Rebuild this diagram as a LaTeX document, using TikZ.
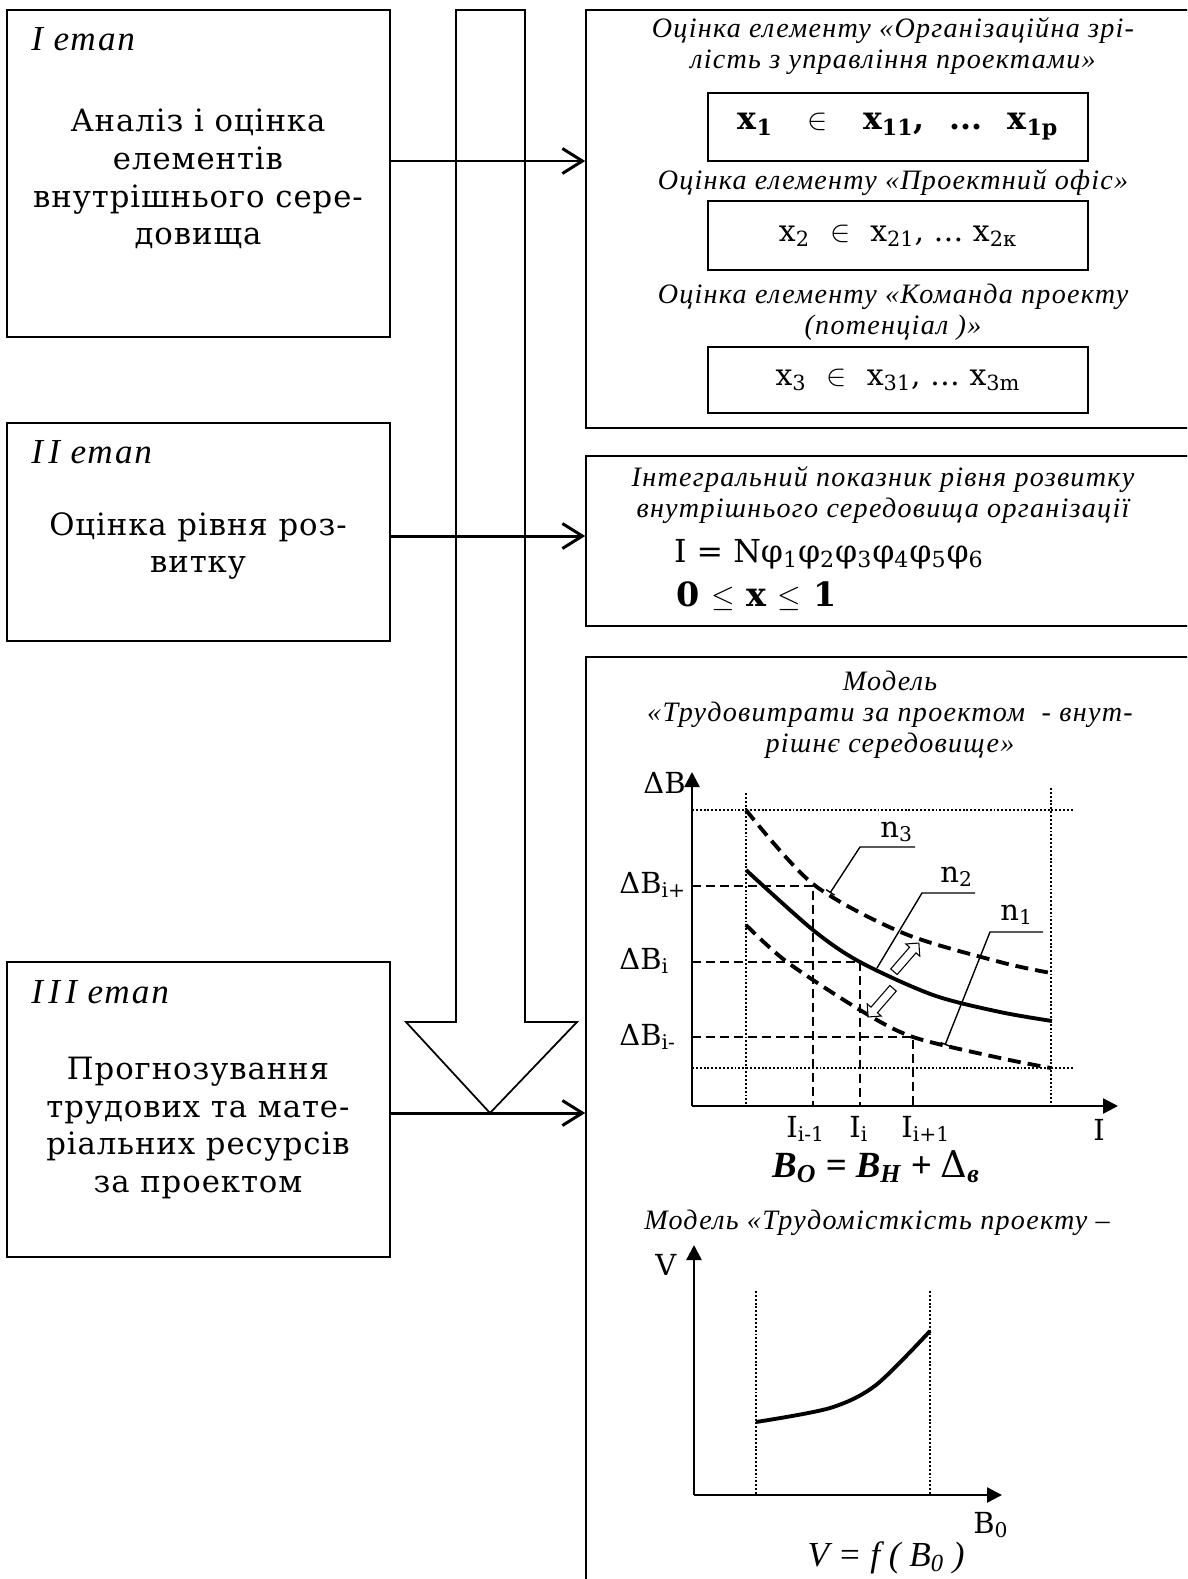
\documentclass[tikz,border=0pt]{standalone}
\usepackage{fontspec}
\setmainfont{DejaVu Serif}[ItalicFont={Liberation Serif Italic},BoldItalicFont={Liberation Serif Bold Italic}]
\usetikzlibrary{arrows.meta,shapes.arrows}

\begin{document}
\begin{tikzpicture}[
  x=0.02cm, y=-0.02cm,
  box/.style={draw, line width=1pt},
  stagetxt/.style={font=\fontsize{17.5}{21.5}\selectfont\addfontfeatures{LetterSpace=3}, align=center},
  stagehead/.style={anchor=base west, inner sep=0pt,
                    font=\fontsize{20}{22}\selectfont\itshape\addfontfeatures{LetterSpace=5}},
  itxt/.style={font=\fontsize{16}{17.6}\selectfont\itshape\addfontfeatures{LetterSpace=4.5}, align=center},
  xbox/.style={draw, line width=1pt, minimum width=7.6cm, minimum height=1.36cm},
  arr/.style={-{Straight Barb[length=4mm,width=5mm]}, line width=1.7pt},
  axisline/.style={-{Triangle[length=3mm,width=3mm]}, line width=1.4pt},
  guide/.style={dash pattern=on 1.1pt off 1.1pt, line width=1.1pt},
  lvl/.style={dash pattern=on 1.8mm off 1mm, line width=1.1pt},
  curve/.style={line width=2.2pt},
  lbl/.style={font=\fontsize{16.5}{18}\selectfont, anchor=base west, inner sep=0pt},
  lead/.style={line width=0.8pt},
  hollow/.style={single arrow, draw, fill=white, line width=0.6pt,
                 minimum height=7.6mm, inner sep=0.75mm, single arrow head extend=1mm}
]
  \clip (0,0) rectangle (1187,1579);

  % stages
  \node[box, minimum width=7.66cm, minimum height=6.54cm] (s1) at (198.5,173.5) {};
  \node[box, minimum width=7.66cm, minimum height=4.36cm] (s2) at (198.5,532) {};
  \node[box, minimum width=7.66cm, minimum height=5.9cm] (s3) at (198.5,1109.5) {};
  \node[stagehead] (h1) at (31,50) {I етап};
  \node[stagehead] (h2) at (31,463) {I\kern3pt I етап};
  \node[stagehead] (h3) at (31,1003) {I\kern3pt I\kern3pt I етап};
  \node[stagetxt] (a1) at (198,179) {Аналіз і оцінка\\ елементів\\ внутрішнього сере-\\ довища};
  \node[stagetxt] (a2) at (198,546) {Оцінка рівня роз-\\ витку};
  \node[stagetxt] (a3) at (198,1128) {Прогнозування\\ трудових та мате-\\ ріальних ресурсів\\ за проектом};

  % big arrow
  \draw[line width=1pt] (456,10) -- (456,1022) -- (406,1022) -- (490,1113)
    -- (577,1022) -- (525,1022) -- (525,10) -- cycle;

  % result boxes
  \node[box, minimum width=12.12cm, minimum height=8.36cm] (r1) at (889,219) {};
  \node[box, minimum width=12.12cm, minimum height=3.4cm] (r2) at (889,541) {};
  \node[box, minimum width=12.12cm, minimum height=18.66cm] (r3) at (889,1123.5) {};

  \coordinate (lv1) at (0,161);
  \coordinate (lv2) at (0,536);
  \coordinate (lv3) at (0,1113);
  \draw[arr] (s1.east |- lv1) -- (r1.west |- lv1);
  \draw[arr] (s2.east |- lv2) -- (r2.west |- lv2);
  \draw[arr] (s3.east |- lv3) -- (r3.west |- lv3);

  % box 1
  \node[itxt] (t11) at (893,46) {Оцінка елементу «Організаційна зрі-\\лість з управління проектами»};
  \node[xbox, font=\fontsize{18}{20}\selectfont\bfseries] (x1) at (898,127)
    {x\textsubscript{1}\hspace{7mm}$\in$\hspace{7mm}x\textsubscript{11},\hspace{5mm}...\hspace{5mm}x\textsubscript{1p}};
  \node[itxt] (t12) at (893,183) {Оцінка елементу «Проектний офіс»};
  \node[xbox, minimum height=1.38cm, font=\fontsize{17}{20}\selectfont] (x2) at (898,235.5)
    {x\textsubscript{2}\hspace{4mm}$\in$\hspace{4mm}x\textsubscript{21}, \dots\ x\textsubscript{2к}};
  \node[itxt] (t13) at (893,312) {Оцінка елементу «Команда проекту\\(потенціал )»};
  \node[xbox, minimum height=1.32cm, font=\fontsize{17}{20}\selectfont] (x3) at (898,380)
    {x\textsubscript{3}\hspace{4mm}$\in$\hspace{4mm}x\textsubscript{31}, \dots\ x\textsubscript{3m}};

  % box 2
  \node[itxt] (t21) at (883,495) {Інтегральний показник рівня розвитку\\внутрішнього середовища організації};
  \node[anchor=base west, font=\fontsize{18}{22}\selectfont] (f21) at (668,562)
    {I = Nφ\textsubscript{1}φ\textsubscript{2}φ\textsubscript{3}φ\textsubscript{4}φ\textsubscript{5}φ\textsubscript{6}};
  \node[anchor=base west, font=\fontsize{19}{22}\selectfont\bfseries] (f22) at (670,606)
    {0 $\leq$ x $\leq$ 1};

  % box 3, model 1
  \node[itxt] (t31) at (890,715) {Модель\\«Трудовитрати за проектом\ \ - внут-\\рішнє середовище»};
  \coordinate (o1) at (692,1106);
  \draw[guide] (746,793) -- (746,1106);
  \draw[guide] (1051,788) -- (1051,1106);
  \draw[guide] (692,810) -- (1073,810);
  \draw[guide] (692,1068) -- (1073,1068);
  \draw[lvl] (692,886) -| (813,1106);
  \draw[lvl] (692,962) -| (860,1106);
  \draw[lvl] (692,1037) -| (913,1106);
  \draw[axisline] (o1) -- (692,772);
  \draw[axisline] (o1) -- (1118,1106);
  \draw[curve, dash pattern=on 2.6mm off 1.4mm] plot[smooth] coordinates
    {(746,810) (813,884) (903,933) (1000,962) (1051,973)};
  \draw[curve] plot[smooth] coordinates
    {(746,870) (813,930) (860,962) (933,995) (1000,1012) (1052,1021)};
  \draw[curve, dash pattern=on 2.6mm off 1.4mm] plot[smooth] coordinates
    {(746,925) (787,962) (860,1010) (913,1037) (1000,1058) (1051,1068)};
  \draw[lead, {Bar[width=2mm]}-] (830,893) -- (860,847) -- (915,847);
  \draw[lead] (877,968) -- (922,893) -- (975,893);
  \draw[lead, {Bar[width=2mm]}-] (945,1045) -- (990,932) -- (1043,932);
  \node[lbl] (n3) at (880,837) {n\textsubscript{3}};
  \node[lbl] (n2) at (940,882) {n\textsubscript{2}};
  \node[lbl] (n1) at (1000,920) {n\textsubscript{1}};
  \node[hollow, rotate=49] (up) at (905,959) {};
  \node[hollow, rotate=229] (dn) at (882,1001) {};
  \node[lbl] (db) at (643,793) {ΔB};
  \node[lbl] (dbp) at (619,893) {ΔB\textsubscript{i+}};
  \node[lbl] (dbi) at (619,969) {ΔB\textsubscript{i}};
  \node[lbl] (dbm) at (619,1045) {ΔB\textsubscript{i-}};
  \node[lbl] (im) at (786,1137) {I\textsubscript{i-1}};
  \node[lbl] (ii) at (849,1137) {I\textsubscript{i}};
  \node[lbl] (ip) at (901,1137) {I\textsubscript{i+1}};
  \node[lbl] (il) at (1093,1140) {I};
  \node[anchor=base, font=\fontsize{21}{23}\selectfont\bfseries\itshape] (bo) at (876,1177)
    {B\textsubscript{O} = B\textsubscript{H} + {\normalfont Δ}\textsubscript{в}};

  % model 2
  \node[itxt] (t32) at (877,1223) {Модель «Трудомісткість проекту –};
  \coordinate (o2) at (694,1495);
  \draw[guide] (756,1291) -- (756,1495);
  \draw[guide] (930,1291) -- (930,1495);
  \draw[axisline] (o2) -- (694,1245);
  \draw[axisline] (o2) -- (1002,1495);
  \draw[curve] plot[smooth] coordinates {(756,1422) (830,1408) (876,1385) (930,1331)};
  \node[lbl] (vl) at (655,1275) {V};
  \node[lbl] (bl) at (973,1533) {B\textsubscript{0}};
  \node[anchor=base, font=\fontsize{20}{22}\selectfont\itshape] (vf) at (886,1566)
    {V = f ( B\textsubscript{0} )};
\end{tikzpicture}
\end{document}
